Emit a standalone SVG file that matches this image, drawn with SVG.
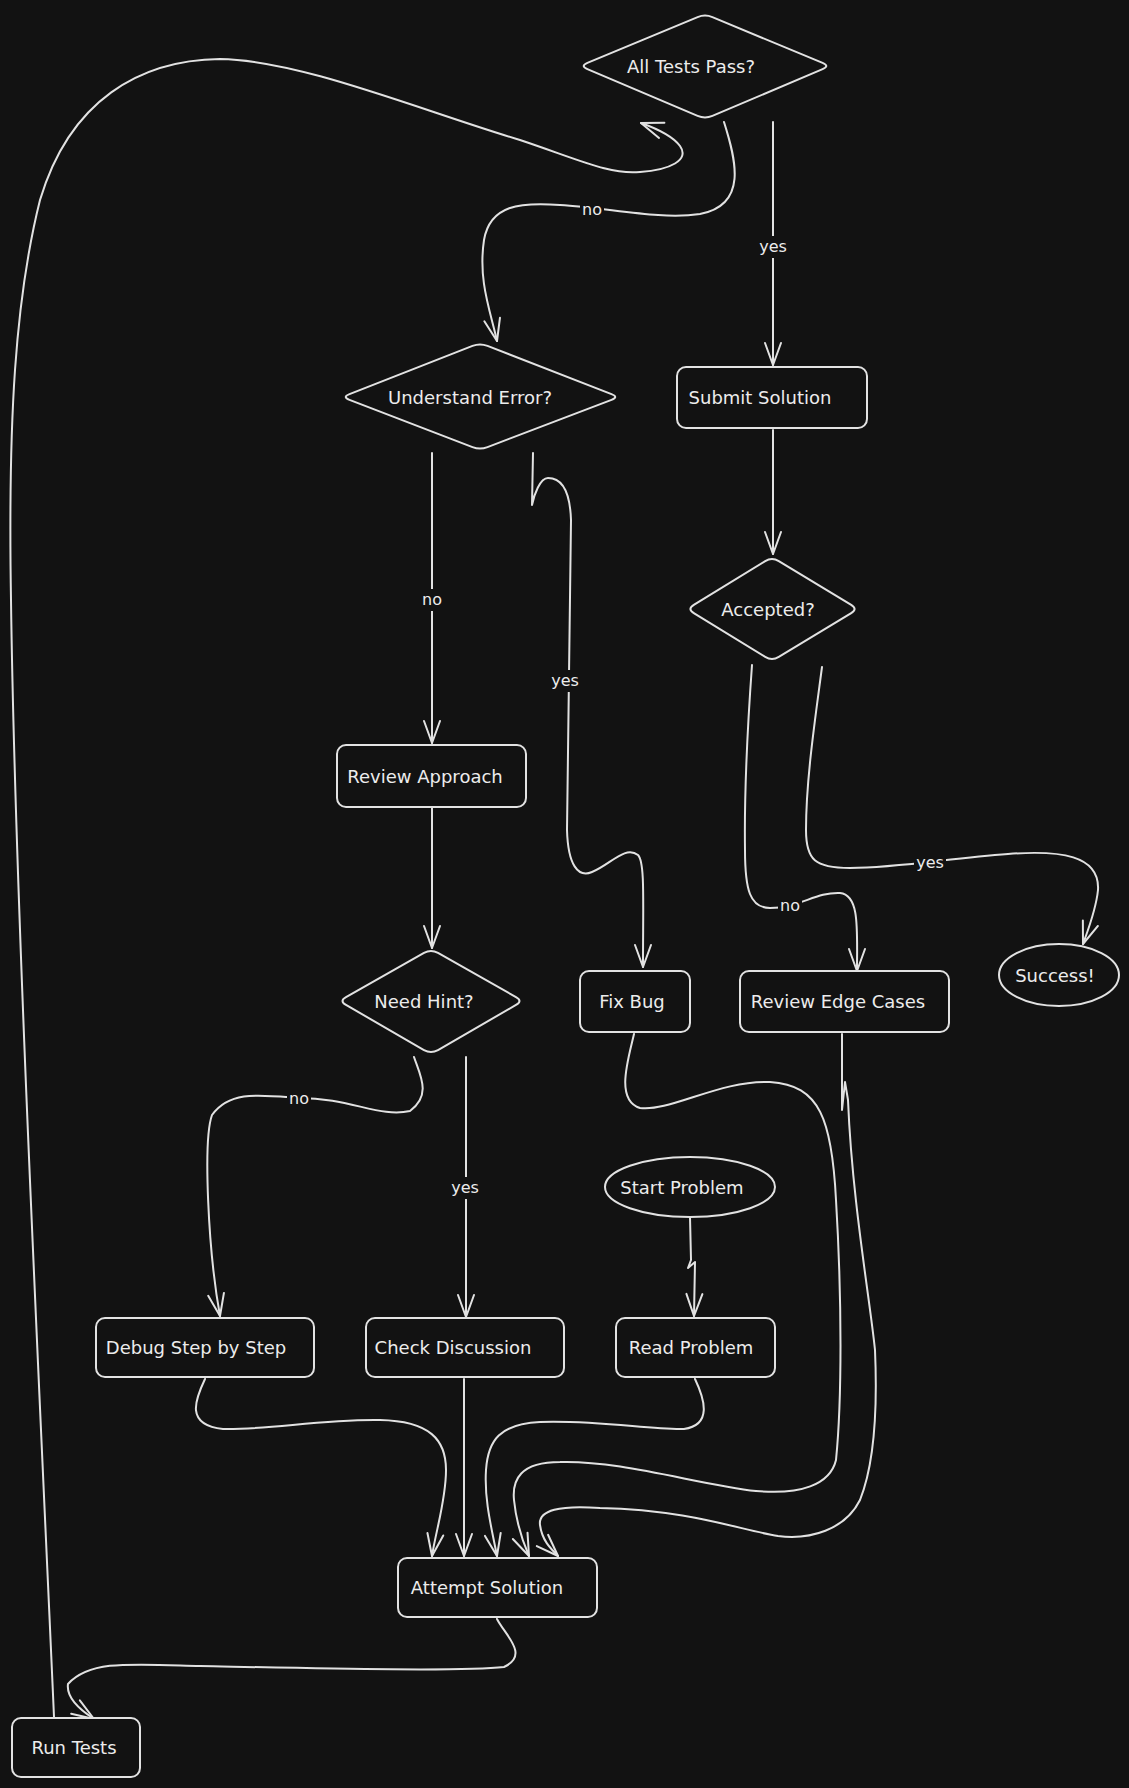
<svg xmlns="http://www.w3.org/2000/svg" width="1129" height="1788" viewBox="0 0 1129 1788">
<defs>
<style>
.bg{fill:#121212}
.shape{fill:#121212;stroke:#e2e2e2;stroke-width:2;stroke-linejoin:round}
.edge{fill:none;stroke:#e2e2e2;stroke-width:2;stroke-linecap:round;stroke-linejoin:round;marker-end:url(#ah)}
.t{font-family:"DejaVu Sans","Liberation Sans",sans-serif;font-size:18px;fill:#ececec;text-anchor:middle;dominant-baseline:central}
.lbl{font-family:"DejaVu Sans","Liberation Sans",sans-serif;font-size:16px;fill:#ececec;text-anchor:middle;dominant-baseline:central}
.lblbg{fill:#121212}
</style>
<marker id="ah" viewBox="-24 -10 26 20" refX="0" refY="0" markerWidth="26" markerHeight="20" markerUnits="userSpaceOnUse" orient="auto">
<path d="M-22,-8 L0,0 L-22,8" fill="none" stroke="#e2e2e2" stroke-width="2" stroke-linecap="round" stroke-linejoin="round"/>
</marker>
</defs>
<rect class="bg" x="0" y="0" width="1129" height="1788"/>

<g id="connectors">
<path class="edge" d="M54,1717 C40,1400 15,900 11,600 C8,420 15,300 40,200 C70,100 140,60 220,59 C300,60 420,110 520,140 C580,160 610,175 640,172 C670,170 690,160 680,146 C672,135 655,128 641,123"/>
<path class="edge" d="M724,122 C736,160 748,205 700,214 C660,220 610,208 560,205 C520,202 490,205 484,240 C478,280 490,310 497,341"/>
<path class="edge" d="M773,122 L773,365"/>
<path class="edge" d="M773,430 L773,554"/>
<path class="edge" d="M432,453 L432,743"/>
<path class="edge" d="M533,453 L532,505 C534,495 540,478 548,478 C562,478 570,490 571,520 L567,830 C568,865 578,878 592,872 C610,865 625,845 638,855 C645,862 643,900 643,967"/>
<path class="edge" d="M432,807 L432,948"/>
<path class="edge" d="M414,1057 C420,1075 432,1095 410,1111 C380,1118 350,1098 299,1098 C260,1095 230,1090 212,1115 C203,1140 208,1250 220,1316"/>
<path class="edge" d="M466,1057 L466,1317"/>
<path class="edge" d="M752,665 C748,720 744,780 745,850 C745,890 750,908 770,908 C800,908 815,892 840,893 C860,895 857,930 857,971"/>
<path class="edge" d="M822,667 C815,720 806,780 806,830 C806,860 815,868 850,868 C900,868 950,858 1008,854 C1060,850 1100,855 1098,890 C1096,910 1088,930 1083,944"/>
<path class="edge" d="M690,1217 L691,1260 L688,1268 L695,1262 L694,1316"/>
<path class="edge" d="M695,1379 C705,1400 712,1425 684,1429 C650,1430 600,1420 540,1422 C500,1424 488,1440 486,1470 C484,1500 492,1530 497,1556"/>
<path class="edge" d="M205,1379 C195,1400 185,1425 223,1429 C270,1430 320,1419 380,1420 C430,1421 446,1440 446,1470 C446,1500 436,1530 432,1556"/>
<path class="edge" d="M464,1379 L464,1556"/>
<path class="edge" d="M634,1034 C628,1060 615,1100 640,1108 C670,1112 720,1080 770,1082 C820,1085 832,1120 836,1200 C842,1300 842,1400 836,1460 C830,1485 800,1495 756,1491 C700,1485 620,1460 560,1462 C520,1462 512,1480 514,1500 C516,1520 522,1540 529,1556"/>
<path class="edge" d="M842,1034 L842,1110 L845,1082 L848,1100 C852,1200 870,1300 875,1350 C878,1420 872,1470 860,1500 C845,1530 810,1540 778,1536 C740,1530 690,1510 600,1508 C560,1505 538,1510 540,1525 C542,1540 550,1548 558,1556"/>
<path class="edge" d="M497,1619 C505,1635 530,1655 504,1667 C460,1672 300,1668 200,1666 C130,1664 90,1660 68,1684 C66,1698 80,1710 94,1719"/>

<rect class="lblbg" x="580" y="199" width="24" height="20"/>
<text class="lbl" x="592" y="209">no</text>
<rect class="lblbg" x="757" y="236" width="32" height="22"/>
<text class="lbl" x="773" y="246">yes</text>
<rect class="lblbg" x="420" y="589" width="24" height="22"/>
<text class="lbl" x="432" y="599">no</text>
<rect class="lblbg" x="549" y="670" width="32" height="22"/>
<text class="lbl" x="565" y="680">yes</text>
<rect class="lblbg" x="287" y="1088" width="24" height="20"/>
<text class="lbl" x="299" y="1098">no</text>
<rect class="lblbg" x="449" y="1177" width="32" height="22"/>
<text class="lbl" x="465" y="1187">yes</text>
<rect class="lblbg" x="778" y="896" width="24" height="20"/>
<text class="lbl" x="790" y="905">no</text>
<rect class="lblbg" x="914" y="852" width="32" height="22"/>
<text class="lbl" x="930" y="862">yes</text>
</g>

<g id="node-all-tests-pass">
<path class="shape" d="M587.4,62.9 L697.6,17.1 Q705,14 712.4,17.1 L822.6,62.9 Q830,66 822.6,69.1 L712.4,115.9 Q705,119 697.6,115.9 L587.4,69.1 Q580,66 587.4,62.9 Z"/>
<text class="t" x="691" y="66">All Tests Pass?</text>
</g>
<g id="node-understand-error">
<path class="shape" d="M349.5,394.1 L472.5,345.9 Q480,343 487.5,345.9 L611.5,394.1 Q619,397 611.5,399.9 L487.5,447.1 Q480,450 472.5,447.1 L349.5,399.9 Q342,397 349.5,394.1 Z"/>
<text class="t" x="470" y="397">Understand Error?</text>
</g>
<g id="node-submit-solution">
<rect class="shape" x="677" y="367" width="190" height="61" rx="9"/>
<text class="t" x="760" y="397">Submit Solution</text>
</g>
<g id="node-accepted">
<path class="shape" d="M693.8,604.8 L765.2,561.2 Q772,557 778.8,561.2 L851.2,604.8 Q858,609 851.2,613.2 L778.8,656.8 Q772,661 765.2,656.8 L693.8,613.2 Q687,609 693.8,604.8 Z"/>
<text class="t" x="768" y="609">Accepted?</text>
</g>
<g id="node-review-approach">
<rect class="shape" x="337" y="745" width="189" height="62" rx="9"/>
<text class="t" x="425" y="776">Review Approach</text>
</g>
<g id="node-need-hint">
<path class="shape" d="M346,997.1 L424,952.9 Q431,949 438,952.9 L516,997.1 Q523,1001 516,1004.9 L438,1050.1 Q431,1054 424,1050.1 L346,1004.9 Q339,1001 346,997.1 Z"/>
<text class="t" x="424" y="1001">Need Hint?</text>
</g>
<g id="node-fix-bug">
<rect class="shape" x="580" y="971" width="110" height="61" rx="9"/>
<text class="t" x="632" y="1001">Fix Bug</text>
</g>
<g id="node-review-edge-cases">
<rect class="shape" x="740" y="971" width="209" height="61" rx="9"/>
<text class="t" x="838" y="1001">Review Edge Cases</text>
</g>
<g id="node-success">
<ellipse class="shape" cx="1059" cy="975" rx="60" ry="31"/>
<text class="t" x="1055" y="975">Success!</text>
</g>
<g id="node-start-problem">
<ellipse class="shape" cx="690" cy="1187" rx="85" ry="30"/>
<text class="t" x="682" y="1187">Start Problem</text>
</g>
<g id="node-debug-step">
<rect class="shape" x="96" y="1318" width="218" height="59" rx="9"/>
<text class="t" x="196" y="1347">Debug Step by Step</text>
</g>
<g id="node-check-discussion">
<rect class="shape" x="366" y="1318" width="198" height="59" rx="9"/>
<text class="t" x="453" y="1347">Check Discussion</text>
</g>
<g id="node-read-problem">
<rect class="shape" x="616" y="1318" width="159" height="59" rx="9"/>
<text class="t" x="691" y="1347">Read Problem</text>
</g>
<g id="node-attempt-solution">
<rect class="shape" x="398" y="1558" width="199" height="59" rx="9"/>
<text class="t" x="487" y="1587">Attempt Solution</text>
</g>
<g id="node-run-tests">
<rect class="shape" x="12" y="1718" width="128" height="59" rx="9"/>
<text class="t" x="74" y="1747">Run Tests</text>
</g>
</svg>
